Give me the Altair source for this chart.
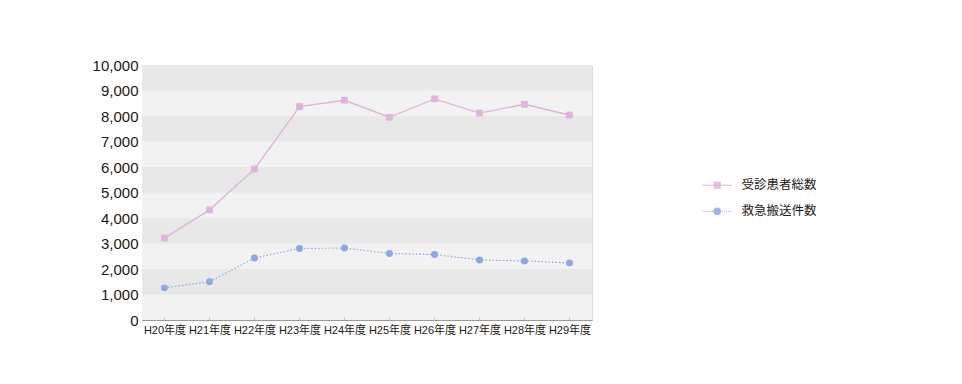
import math
import altair as alt
import pandas as pd

years = ["H20年度", "H21年度", "H22年度", "H23年度", "H24年度",
         "H25年度", "H26年度", "H27年度", "H28年度", "H29年度"]
patients = [3210, 4320, 5920, 8370, 8615, 7950, 8670, 8115, 8460, 8040]
ambulance = [1260, 1500, 2430, 2805, 2820, 2610, 2570, 2355, 2315, 2240]
series_names = ["受診患者総数", "救急搬送件数"]
band_starts = [1000, 3000, 5000, 7000, 9000]
y_ticks = list(range(0, 10001, 1000))

PINK = "#dfb3db"
BLUE = "#8da7df"
FONT = "Liberation Sans, Noto Sans CJK JP, sans-serif"

rows = []
for y, a, b in zip(years, patients, ambulance):
    rows.append({"year": y, "series": series_names[0], "value": a})
    rows.append({"year": y, "series": series_names[1], "value": b})
df = pd.DataFrame(rows)
bands = pd.DataFrame({"value": [0] + band_starts,
                      "value2": [10000] + [v + 1000 for v in band_starts],
                      "kind": ["light"] + ["dark"] * len(band_starts)})
ticks_df = pd.DataFrame({"year": years, "value": [0] * len(years),
                         "value2": [110] * len(years)})

xenc = alt.X("year:N", sort=years, title=None,
             scale=alt.Scale(type="point", domain=years, padding=0.5),
             axis=alt.Axis(labelAngle=0, labelFontSize=11, labelColor="#231815",
                           labelFont=FONT, ticks=False, domainColor="#9a9a9a",
                           labelPadding=4, grid=False, labelOverlap=False))
yscale = alt.Scale(domain=[0, 10000], nice=False)
yaxis = alt.Axis(values=y_ticks, format=",d", labelFontSize=15,
                 labelColor="#231815", labelFont=FONT, ticks=False,
                 grid=False, domainColor="#9a9a9a", labelPadding=4,
                 labelOverlap=False)
yenc = alt.Y("value:Q", scale=yscale, title=None, axis=yaxis)

band_layer = alt.Chart(bands).mark_rect().encode(
    y=yenc, y2="value2:Q",
    fill=alt.Fill("kind:N", scale=alt.Scale(domain=["light", "dark"],
                                            range=["#f2f2f2", "#e8e8e8"]),
                  legend=None),
)

tick_layer = alt.Chart(ticks_df).mark_rule(color="#c8c8c8", strokeWidth=1).encode(
    x=xenc, y=yenc, y2="value2:Q"
)

base = alt.Chart(df)
pink_line = base.transform_filter(alt.datum.series == series_names[0]).mark_line(
    color=PINK, strokeWidth=1.4).encode(x=xenc, y=yenc)
blue_line = base.transform_filter(alt.datum.series == series_names[1]).mark_line(
    color=BLUE, strokeWidth=1.2, strokeDash=[1.5, 2]).encode(x=xenc, y=yenc)
pink_pts = base.transform_filter(alt.datum.series == series_names[0]).mark_point(
    color=PINK, filled=True, opacity=1, shape="square", size=45).encode(x=xenc, y=yenc)
blue_pts = base.transform_filter(alt.datum.series == series_names[1]).mark_point(
    color=BLUE, filled=True, opacity=1, shape="circle", size=48).encode(x=xenc, y=yenc)

# legend symbol paths, unit = 5px (symbol size 100), drawn with 1px strokes only
U = 0.2  # one pixel in path units


def hline(y, x0, x1):
    return f"M{x0:.2f},{y:.2f}H{x1:.2f}"


square = "".join(hline(i * U, -0.7, 0.7) for i in range(-3, 4))
circle = ""
for i in range(-3, 4):
    half = math.sqrt(max(3.8 ** 2 - i ** 2, 0))
    circle += hline(i * U, -half * U, half * U)
pink_path = hline(0, -3, 3) + square
blue_path = "".join(hline(0, -3 + k * 2 * U, -3 + k * 2 * U + U) for k in range(15)) + circle

legend_layer = base.mark_point(filled=False, opacity=0, size=100).encode(
    x=xenc, y=yenc,
    color=alt.Color("series:N", scale=alt.Scale(domain=series_names, range=[PINK, BLUE]),
                    title=None,
                    legend=alt.Legend(
                        orient="none", legendX=569, legendY=114,
                        labelFontSize=12.5, labelColor="#231815", labelFont=FONT,
                        symbolSize=100, rowPadding=13, labelOffset=18,
                        symbolStrokeWidth=1, symbolOpacity=1)),
    shape=alt.Shape("series:N", scale=alt.Scale(domain=series_names,
                                                range=[pink_path, blue_path]),
                    title=None),
)

chart = alt.layer(band_layer, tick_layer, pink_line, blue_line, pink_pts, blue_pts,
                  legend_layer).properties(
    width=450, height=255,
    autosize=alt.AutoSizeParams(type="none"),
    padding={"left": 134, "top": 57, "right": 362, "bottom": 56},
).configure_view(stroke=None).configure(background="white")

chart.save("out.html", embed_options={"renderer": "svg", "actions": False})
